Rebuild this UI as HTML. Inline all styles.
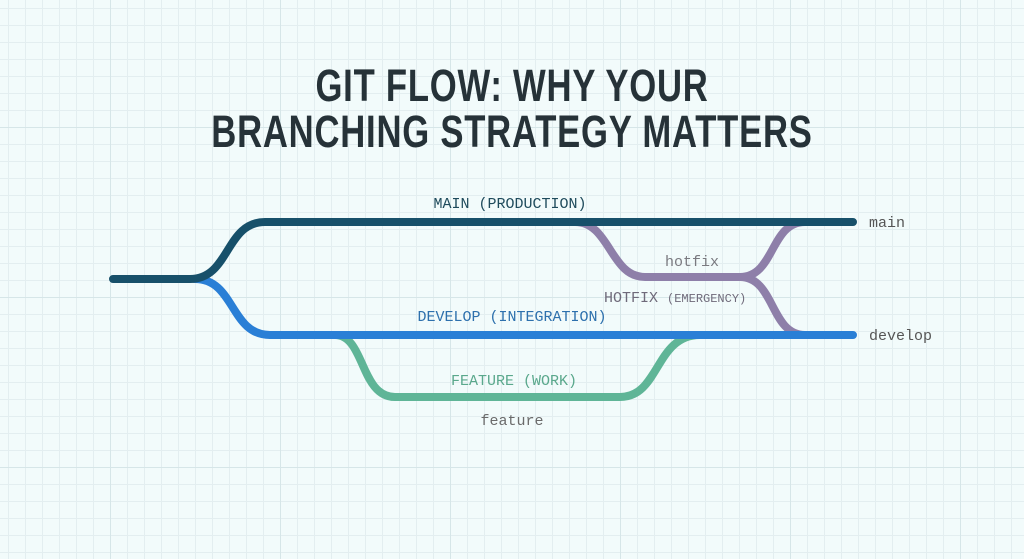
<!DOCTYPE html>
<html><head><style>
html,body{margin:0;padding:0}
body{width:1024px;height:559px;overflow:hidden;background:#f2fbfb;position:relative;font-family:"Liberation Sans",sans-serif}
.grid{position:absolute;inset:0;
background-image:
linear-gradient(to right,#d6e6e8 1px,transparent 1px),
linear-gradient(to bottom,#d6e6e8 1px,transparent 1px),
linear-gradient(to right,#e3eef0 1px,transparent 1px),
linear-gradient(to bottom,#e3eef0 1px,transparent 1px);
background-size:170px 170px,170px 170px,17px 17px,17px 17px;
background-position:110px 127px,110px 127px,8px 8px,8px 8px}
.t{position:absolute;left:0;width:1024px;text-align:center;font-weight:bold;color:#263238;font-size:45px;letter-spacing:1px;transform:scaleX(0.77);transform-origin:512px 0}
svg{position:absolute;left:0;top:0}
</style></head><body>
<div class="grid"></div>
<div class="t" style="top:60px">GIT FLOW: WHY YOUR</div>
<div class="t" style="top:106px">BRANCHING STRATEGY MATTERS</div>
<svg width="1024" height="559" font-family="Liberation Mono, monospace">
<g fill="none" stroke-width="8" stroke-linecap="round">
<path d="M335 335 C365 335 360 397 395 397 L620 397 C660 397 655 335 700 335" stroke="#5fb597"/>
<path d="M575 222 C610 222 610 277 645 277 L740 277 C775 277 770 222 805 222 M740 277 C775 277 770 335 805 335" stroke="#8e7fa9"/>
<path d="M195 279 C235 279 230 335 270 335 L853 335" stroke="#2a7fd6"/>
<path d="M113 279 L190 279 C230 279 225 222 265 222 L853 222" stroke="#17506a"/>
</g>
<g font-size="15" text-anchor="middle">
<text x="510" y="208" fill="#1f4b5c">MAIN (PRODUCTION)</text>
<text x="512" y="321" fill="#2d70ad">DEVELOP (INTEGRATION)</text>
<text x="514" y="385" fill="#5aa88c">FEATURE (WORK)</text>
<text x="512" y="425" fill="#6b6b6b">feature</text>
<text x="692" y="266" fill="#7a7a80">hotfix</text>
</g>
<text x="604" y="302" font-size="15" fill="#6f6a7a">HOTFIX <tspan font-size="12">(EMERGENCY)</tspan></text>
<text x="869" y="227" font-size="15" fill="#555">main</text>
<text x="869" y="340" font-size="15" fill="#555">develop</text>
</svg>
</body></html>
